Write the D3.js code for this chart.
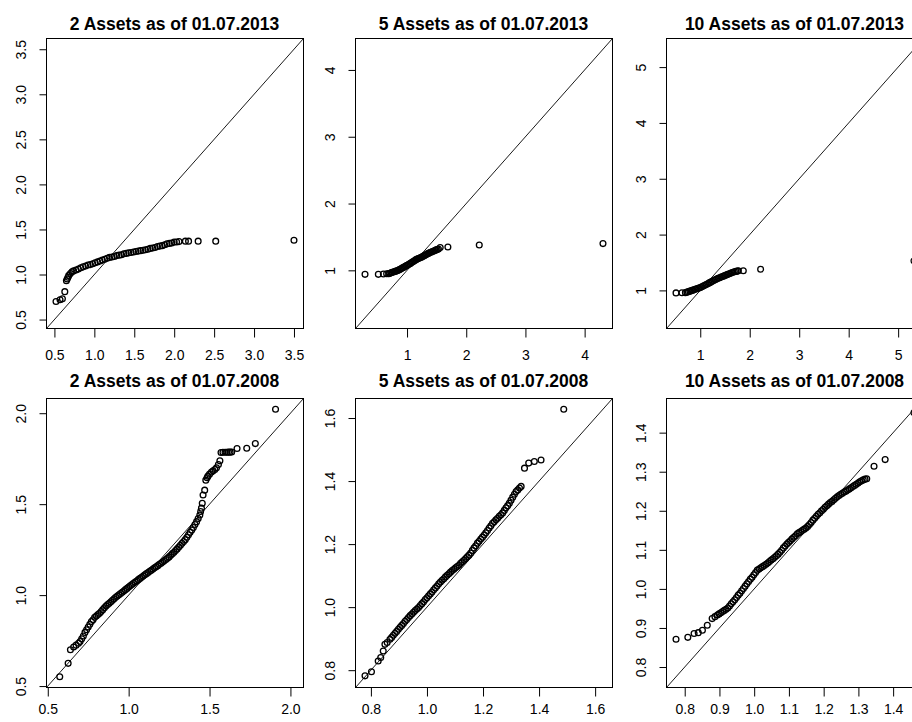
<!DOCTYPE html>
<html><head><meta charset="utf-8">
<script src="https://cdn.jsdelivr.net/npm/d3@7"></script>
<style>
body{margin:0;background:#fff}
svg text{font-family:"Liberation Sans",Arial,sans-serif;fill:#000}
</style>
</head><body>
<svg id="chart" width="912" height="722"></svg>
<script>
// ---------------- data ----------------
const titles = [
  "2 Assets as of 01.07.2013","5 Assets as of 01.07.2013","10 Assets as of 01.07.2013",
  "2 Assets as of 01.07.2008","5 Assets as of 01.07.2008","10 Assets as of 01.07.2008"
];

// Panel 1: 2 assets, 2013
const p1x = [0.52,0.57,0.60,0.63,0.65,0.66,0.67,0.68,0.70,0.72,0.74,0.77,0.80,0.83,0.86,0.89,0.92,0.95,0.98,1.01,1.04,1.07,1.10,1.13,1.16,1.19,1.22,1.25,1.28,1.31,1.34,1.37,1.40,1.43,1.46,1.49,1.52,1.55,1.58,1.61,1.64,1.67,1.70,1.73,1.76,1.79,1.82,1.85,1.88,1.91,1.94,1.97,2.00,2.03,2.06,2.14,2.18,2.30,2.52,3.50];
const p1y = [0.70,0.72,0.73,0.81,0.93,0.95,0.97,0.99,1.01,1.03,1.04,1.05,1.06,1.075,1.085,1.095,1.105,1.11,1.12,1.13,1.14,1.15,1.16,1.17,1.18,1.19,1.195,1.20,1.21,1.215,1.22,1.23,1.235,1.24,1.245,1.25,1.255,1.26,1.265,1.27,1.275,1.28,1.29,1.295,1.30,1.31,1.315,1.32,1.33,1.34,1.345,1.35,1.36,1.36,1.365,1.37,1.37,1.37,1.37,1.38];

// Panel 2: 5 assets, 2013
const p2x = [0.29,0.515,0.60,0.655,0.69,0.71,0.73,0.75,0.77,0.79,0.81,0.83,0.85,0.87,0.89,0.91,0.93,0.95,0.97,0.99,1.01,1.03,1.05,1.07,1.09,1.11,1.13,1.15,1.17,1.19,1.21,1.23,1.25,1.27,1.29,1.31,1.33,1.35,1.37,1.39,1.41,1.43,1.45,1.47,1.49,1.51,1.53,1.56,1.69,2.22,4.31];
const p2y = [0.94,0.94,0.945,0.948,0.950,0.957,0.963,0.970,0.976,0.982,0.988,0.994,1.000,1.010,1.020,1.030,1.040,1.050,1.060,1.070,1.080,1.090,1.100,1.112,1.124,1.136,1.148,1.160,1.168,1.176,1.184,1.192,1.200,1.210,1.220,1.230,1.240,1.250,1.258,1.266,1.274,1.282,1.290,1.298,1.306,1.313,1.320,1.34,1.35,1.38,1.40];

// Panel 3: 10 assets, 2013
const p3x = [0.51,0.63,0.70,0.73,0.76,0.79,0.82,0.85,0.88,0.91,0.94,0.97,1.00,1.03,1.06,1.09,1.12,1.15,1.18,1.21,1.24,1.27,1.30,1.33,1.36,1.39,1.42,1.45,1.48,1.51,1.54,1.57,1.60,1.63,1.66,1.69,1.72,1.75,1.77,1.87,2.22,5.32];
const p3y = [0.955,0.958,0.960,0.969,0.978,0.987,0.996,1.005,1.014,1.023,1.032,1.041,1.050,1.064,1.078,1.092,1.106,1.120,1.134,1.148,1.162,1.176,1.190,1.204,1.216,1.227,1.238,1.249,1.260,1.271,1.282,1.293,1.304,1.315,1.326,1.334,1.340,1.346,1.350,1.352,1.38,1.53];

// Panel 4: 2 assets, 2008
const p4x = [0.574,0.626,0.640,0.660,0.675,0.690,0.700,0.710,0.720,0.730,0.740,0.750,0.760,0.770,0.780,0.790,0.800,0.810,0.820,0.830,0.840,0.850,0.860,0.870,0.880,0.890,
  0.90,0.91,0.92,0.93,0.94,0.95,0.96,0.97,0.98,0.99,1.00,1.01,1.02,1.03,1.04,1.05,1.06,1.07,1.08,1.09,1.10,1.11,1.12,1.13,1.14,1.15,1.16,1.17,1.18,1.19,1.20,1.21,1.22,1.23,1.24,1.25,1.26,1.27,1.28,1.29,1.30,1.31,1.32,1.33,1.34,1.35,1.36,1.37,1.38,1.39,1.40,1.41,1.42,1.43,1.44,
  1.445,1.450,1.455,1.460,1.470,1.477,1.485,1.490,1.500,1.512,1.522,1.533,1.543,1.555,1.564,1.571,1.583,1.596,1.607,1.617,1.627,1.637,1.670,1.730,1.783,1.908];
const p4y = [0.551,0.625,0.700,0.715,0.725,0.735,0.745,0.760,0.775,0.795,0.810,0.825,0.840,0.855,0.865,0.878,0.885,0.893,0.900,0.910,0.920,0.930,0.940,0.948,0.955,0.963,
  0.972,0.980,0.988,0.995,1.002,1.009,1.016,1.023,1.030,1.037,1.044,1.051,1.058,1.065,1.072,1.078,1.085,1.092,1.098,1.105,1.112,1.118,1.124,1.131,1.137,1.143,1.150,1.156,1.162,1.169,1.175,1.182,1.189,1.196,1.203,1.210,1.219,1.228,1.236,1.245,1.254,1.264,1.274,1.285,1.295,1.305,1.318,1.332,1.345,1.358,1.372,1.388,1.404,1.421,1.440,
  1.460,1.478,1.505,1.550,1.577,1.632,1.645,1.654,1.665,1.677,1.683,1.690,1.700,1.718,1.738,1.784,1.785,1.785,1.785,1.786,1.786,1.787,1.806,1.807,1.833,2.022];

// Panel 5: 5 assets, 2008
const p5x = [0.779,0.802,0.826,0.835,0.844,0.850,0.858,
  0.868,0.874,0.880,0.886,0.892,0.898,0.904,0.910,0.916,0.922,0.928,0.934,0.940,0.946,0.952,0.958,0.964,0.970,0.976,0.982,0.988,0.994,1.000,1.006,1.012,1.018,1.024,1.030,1.036,1.042,1.048,1.054,1.060,1.066,1.072,1.078,1.084,1.090,1.096,1.102,1.108,1.114,1.120,1.126,1.132,1.138,1.144,1.150,1.156,1.162,1.168,1.174,1.180,1.186,1.192,1.198,1.204,1.210,1.216,1.222,1.228,1.234,1.240,1.246,1.252,1.258,1.264,1.270,1.276,1.282,1.288,1.294,1.300,1.306,1.312,1.318,1.324,1.330,1.336,
  1.348,1.363,1.383,1.407,1.488];
const p5y = [0.782,0.795,0.829,0.840,0.861,0.882,0.888,
  0.898,0.904,0.911,0.917,0.923,0.930,0.936,0.942,0.948,0.955,0.961,0.967,0.973,0.978,0.984,0.989,0.994,0.999,1.005,1.011,1.017,1.024,1.030,1.036,1.042,1.048,1.055,1.061,1.067,1.074,1.080,1.085,1.090,1.096,1.101,1.106,1.111,1.116,1.120,1.125,1.129,1.133,1.139,1.144,1.149,1.154,1.160,1.165,1.172,1.180,1.188,1.195,1.203,1.209,1.216,1.222,1.229,1.236,1.243,1.251,1.258,1.266,1.271,1.277,1.282,1.288,1.293,1.299,1.307,1.315,1.322,1.330,1.339,1.349,1.358,1.367,1.372,1.378,1.383,
  1.441,1.457,1.462,1.467,1.628];

// Panel 6: 10 assets, 2008
const p6x = [0.775,0.809,0.827,0.839,0.851,0.865,0.879,0.887,
  0.894,0.899,0.904,0.909,0.914,0.919,0.924,0.929,0.934,0.939,0.944,0.949,0.954,0.959,0.964,0.969,0.974,0.979,0.984,0.989,0.994,0.999,1.004,1.009,1.014,1.019,1.024,1.029,1.034,1.039,1.044,1.049,1.054,1.059,1.064,1.069,1.074,1.079,1.084,1.089,1.094,1.099,1.104,1.109,1.114,1.119,1.124,1.129,1.134,1.139,1.144,1.149,1.154,1.159,1.164,1.169,1.174,1.179,1.184,1.189,1.194,1.199,1.204,1.209,1.214,1.219,1.224,1.229,1.234,1.239,1.244,1.249,1.254,1.259,1.264,1.269,1.274,1.279,1.284,1.289,1.294,1.299,1.304,1.309,1.314,1.319,1.324,
  1.345,1.377,1.460];
const p6y = [0.871,0.876,0.886,0.888,0.894,0.907,0.924,0.929,
  0.933,0.936,0.939,0.942,0.945,0.948,0.951,0.956,0.962,0.967,0.972,0.978,0.984,0.989,0.995,1.001,1.007,1.013,1.019,1.025,1.030,1.036,1.042,1.048,1.051,1.054,1.057,1.060,1.063,1.066,1.070,1.074,1.077,1.081,1.085,1.089,1.094,1.099,1.105,1.110,1.115,1.119,1.123,1.128,1.132,1.136,1.141,1.144,1.147,1.150,1.153,1.156,1.160,1.165,1.170,1.176,1.181,1.186,1.191,1.195,1.200,1.204,1.209,1.213,1.217,1.221,1.224,1.228,1.232,1.236,1.239,1.242,1.245,1.248,1.250,1.253,1.256,1.259,1.262,1.265,1.268,1.271,1.274,1.277,1.279,1.281,1.282,
  1.314,1.331,1.451];

// tick values and labels
const ticks1 = [0.5,1,1.5,2,2.5,3,3.5];
const labels1 = ["0.5","1.0","1.5","2.0","2.5","3.0","3.5"];
const ticks2 = [1,2,3,4];
const labels2 = ["1","2","3","4"];
const ticks3 = [1,2,3,4,5];
const labels3 = ["1","2","3","4","5"];
const ticks4 = [0.5,1,1.5,2];
const labels4 = ["0.5","1.0","1.5","2.0"];
const ticks5 = [0.8,1,1.2,1.4,1.6];
const labels5 = ["0.8","1.0","1.2","1.4","1.6"];
const ticks6 = [0.8,0.9,1,1.1,1.2,1.3,1.4];
const labels6 = ["0.8","0.9","1.0","1.1","1.2","1.3","1.4"];

// ---------------- layout ----------------
const panels = [
  {x:p1x,y:p1y,t:ticks1,l:labels1},
  {x:p2x,y:p2y,t:ticks2,l:labels2},
  {x:p3x,y:p3y,t:ticks3,l:labels3},
  {x:p4x,y:p4y,t:ticks4,l:labels4},
  {x:p5x,y:p5y,t:ticks5,l:labels5},
  {x:p6x,y:p6y,t:ticks6,l:labels6}
];
const colLeft = [46,355,666];
const rowTop = [38,398];
const rowH = [290,289];
const plotW = 257;
const titleBase = [30,387];
const xLabOff = [31,26];

const svg = d3.select("#chart");
svg.append("rect").attr("width",912).attr("height",722).attr("fill","#fff");

panels.forEach((p,i)=>{
  const col=i%3,row=Math.floor(i/3);
  const L=colLeft[col],T=rowTop[row],w=plotW,h=rowH[row];
  const n=Math.min(p.x.length,p.y.length);
  const all=p.x.slice(0,n).concat(p.y.slice(0,n));
  const lo=d3.min(all),hi=d3.max(all),pad=(hi-lo)*0.04;
  const dom=[lo-pad,hi+pad];
  const xs=d3.scaleLinear().domain(dom).range([0,w]);
  const ys=d3.scaleLinear().domain(dom).range([h,0]);
  const g=svg.append("g").attr("transform",`translate(${L+0.5},${T+0.5})`);
  const cid="clip"+i;
  g.append("clipPath").attr("id",cid).append("rect").attr("width",w).attr("height",h);
  const inner=g.append("g").attr("clip-path",`url(#${cid})`);
  inner.append("line")
    .attr("x1",xs(dom[0])).attr("y1",ys(dom[0]))
    .attr("x2",xs(dom[1])).attr("y2",ys(dom[1]))
    .attr("stroke","#000").attr("stroke-width",0.9);
  const pts=d3.range(n).map(k=>[p.x[k],p.y[k]]);
  inner.selectAll("circle").data(pts).join("circle")
    .attr("cx",d=>xs(d[0])).attr("cy",d=>ys(d[1])).attr("r",2.9)
    .attr("fill","none").attr("stroke","#000").attr("stroke-width",1.3);
  g.append("rect").attr("width",w).attr("height",h)
    .attr("fill","none").attr("stroke","#000").attr("stroke-width",1);
  // x axis
  const gx=g.append("g").attr("transform",`translate(0,${h})`)
    .call(d3.axisBottom(xs).tickValues(p.t).tickFormat((d,j)=>p.l[j]).tickSize(9));
  gx.select(".domain").remove();
  gx.selectAll("line").attr("stroke","#000");
  gx.selectAll("text").attr("y",xLabOff[row]).attr("dy",0)
    .style("font-size","14px").attr("fill","#000");
  // y axis
  const gy=g.append("g")
    .call(d3.axisLeft(ys).tickValues(p.t).tickFormat((d,j)=>p.l[j]).tickSize(7));
  gy.select(".domain").remove();
  gy.selectAll("line").attr("stroke","#000");
  gy.selectAll("text").attr("x",0).attr("y",-21).attr("dy",0)
    .attr("transform","rotate(-90)").attr("text-anchor","middle")
    .style("font-size","14px").attr("fill","#000");
  // title
  svg.append("text").attr("x",L+w/2).attr("y",titleBase[row])
    .attr("text-anchor","middle").style("font-size","17.5px").style("font-weight","bold")
    .text(titles[i]);
});
</script>
</body></html>
